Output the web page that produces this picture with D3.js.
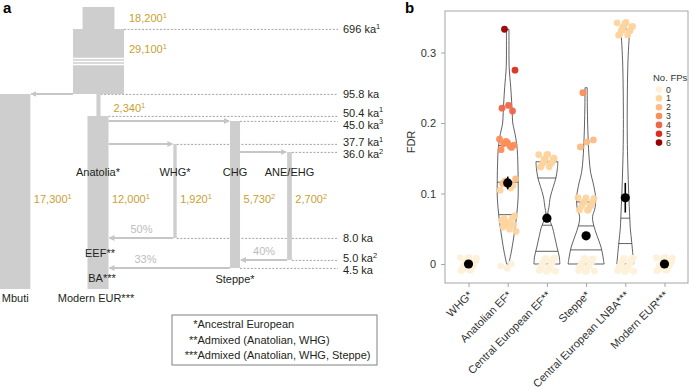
<!DOCTYPE html>
<html>
<head>
<meta charset="utf-8">
<script src="https://cdn.jsdelivr.net/npm/d3@7"></script>
<style>
  body { margin: 0; background: #fff; }
  svg { font-family: "Liberation Sans", Arial, sans-serif; }
</style>
</head>
<body>
<svg id="fig" width="690" height="390"></svg>
<script>
// ---------- panel a : demographic model ----------
const timeMarks = [696, 95.8, 50.4, 45.0, 37.7, 36.0, 8.0, 5.0, 4.5];   // ka
const timeRefs  = ["1", "", "1", "3", "1", "2", "", "2", ""];
const ancNe   = [18200, 29100];
const ancRefs = ["1", "1"];
const stemNe  = 2340;
const popNames = ["Mbuti", "Anatolia*", "WHG*", "CHG", "ANE/EHG"];
const popNe    = [17300, 12000, 1920, 5730, 2700];
const popRefs  = ["1", "1", "1", "2", "2"];
const popStart = [95.8, 50.4, 37.7, 45.0, 36.0];
const popEnd   = [0, 0, 8.0, 4.5, 5.0];
// population splits
const splitFrom = ["Anatolia*", "Anatolia*", "CHG"];
const splitTo   = ["CHG", "WHG*", "ANE/EHG"];
const splitTime = [45.0, 37.7, 36.0];
// admixture pulses
const pulseFrom = ["WHG*", "ANE/EHG", "CHG"];
const pulseTo   = ["Anatolia*", "CHG", "Anatolia*"];
const pulseTime = [8.0, 5.0, 4.5];
const pulsePct  = ["50%", "40%", "33%"];
const keyStars = ["*", "**", "***"];
const keyText  = ["Ancestral European", "Admixed (Anatolian, WHG)", "Admixed (Anatolian, WHG, Steppe)"];

// ---------- panel b : FDR per population ----------
const fdrCats  = ["WHG*", "Anatolian EF*", "Central European EF**", "Steppe*", "Central European LNBA***", "Modern EUR***"];
const fdrMean  = [0, 0.115, 0.065, 0.040, 0.094, 0];
const fdrLo    = [0, 0.106, 0.061, 0.036, 0.073, 0];
const fdrHi    = [0, 0.124, 0.069, 0.044, 0.115, 0];
const fdrQuart = [null, [0.070, 0.116, 0.168], [0.018, 0.055, 0.122], [0.020, 0.054, 0.088], [0.029, 0.065, 0.333], null];
// violin profiles: [FDR, relative density]
const violinAnatolian = [[0,0.06],[0.02,0.22],[0.048,0.39],[0.07,0.5],[0.095,0.58],[0.12,0.58],[0.145,0.56],[0.162,0.53],[0.18,0.44],[0.19,0.36],[0.2,0.28],[0.215,0.25],[0.23,0.22],[0.25,0.17],[0.28,0.08],[0.31,0.07],[0.333,0.07]];
const violinCentralEF = [[0,0.72],[0.01,0.69],[0.024,0.56],[0.04,0.42],[0.052,0.31],[0.065,0.11],[0.072,0.05],[0.08,0.11],[0.095,0.19],[0.11,0.36],[0.122,0.5],[0.135,0.58],[0.145,0.61]];
const violinSteppe    = [[0,1.0],[0.01,0.94],[0.024,0.83],[0.04,0.61],[0.055,0.42],[0.067,0.36],[0.08,0.5],[0.095,0.53],[0.105,0.47],[0.115,0.39],[0.13,0.25],[0.15,0.17],[0.18,0.11],[0.22,0.07],[0.25,0.06]];
const violinLNBA      = [[0,0.47],[0.03,0.36],[0.05,0.28],[0.065,0.25],[0.1,0.19],[0.14,0.14],[0.18,0.11],[0.23,0.11],[0.28,0.14],[0.31,0.19],[0.333,0.25]];
const violins = [null, violinAnatolian, violinCentralEF, violinSteppe, violinLNBA, null];
// simulation points: [FDR, number of FPs, count]
const ptsWHG       = [[0, 0, 20]];
const ptsAnatolian = [[0.333,6,1],[0.275,5,1],[0.225,4,1],[0.221,4,1],[0.217,4,1],[0.172,3,4],[0.167,3,4],[0.116,2,4],[0.110,1,4],[0.064,1,5],[0.052,1,5],[0,0,3]];
const ptsCentralEF = [[0.146,1,14],[0,0,18]];
const ptsSteppe    = [[0.243,3,1],[0.176,2,1],[0.173,2,1],[0.166,2,1],[0.085,1,12],[0,0,18]];
const ptsLNBA      = [[0.333,1,14],[0,0,18]];
const ptsModern    = [[0, 0, 20]];
const points = [ptsWHG, ptsAnatolian, ptsCentralEF, ptsSteppe, ptsLNBA, ptsModern];
const fpLevels = [0, 1, 2, 3, 4, 5, 6];

const svg = d3.select("#fig");
const gold = "#c9a030", colGrey = "#cecece", arrowGrey = "#c6c6c6", ink = "#231f20";

svg.append("defs").append("marker")
  .attr("id", "ah").attr("viewBox", "0 0 6 6").attr("refX", 5).attr("refY", 3)
  .attr("markerWidth", 6).attr("markerHeight", 6).attr("markerUnits", "userSpaceOnUse")
  .attr("orient", "auto")
  .append("path").attr("d", "M0,0L6,3L0,6Z").attr("fill", arrowGrey);

svg.append("text").attr("x", 3).attr("y", 13).attr("font-size", 15).attr("font-weight", "bold").text("a");
svg.append("text").attr("x", 405).attr("y", 13).attr("font-size", 15).attr("font-weight", "bold").text("b");

// ================= panel a =================
const gA = svg.append("g");
const ancTopTime = 1200;   // top of the drawing, not to scale
const yTime = d3.scaleLinear()
  .domain([0, 4.5, 5.0, 8.0, 36.0, 37.7, 45.0, 50.4, 95.8, 696, ancTopTime])
  .range([289, 268, 260, 238, 152, 144, 121, 116, 94, 29, 7]);
const neWidth = d3.scaleLinear().domain([0, 29100]).range([0, 51]);
const xLane = d3.scaleOrdinal().domain(["Ancestral", ...popNames]).range([98.5, 15.2, 98, 175, 235, 289.5]);

const cols = [
  {name: "AncTop", cx: xLane("Ancestral"), ne: ancNe[0], start: ancTopTime, end: 696},
  {name: "AncWide", cx: xLane("Ancestral"), ne: ancNe[1], start: 696, end: 95.8},
  {name: "Stem", cx: xLane("Ancestral"), ne: stemNe, start: 95.8, end: 50.4}
].concat(popNames.map((n, i) => ({name: n, cx: xLane(n), ne: popNe[i], start: popStart[i], end: popEnd[i]})));
cols.forEach(c => { c.w = neWidth(c.ne); c.left = c.cx - c.w / 2; c.right = c.cx + c.w / 2; });
const col = n => cols.find(c => c.name === n);

// dashed time guides
timeMarks.forEach(t => {
  let hit = cols.filter(c => c.start === t);
  if (!hit.length) hit = cols.filter(c => c.end === t);
  const x0 = d3.max(hit, c => c.right);
  gA.append("line").attr("x1", x0).attr("x2", 338).attr("y1", yTime(t) + 0.4).attr("y2", yTime(t) + 0.4)
    .attr("stroke", "#7a7a7a").attr("stroke-width", 0.7).attr("stroke-dasharray", "2,1.6");
});

// columns
gA.selectAll("rect.col").data(cols).enter().append("rect")
  .attr("class", "col")
  .attr("x", c => c.left).attr("width", c => c.w)
  .attr("y", c => yTime(c.start)).attr("height", c => yTime(c.end) - yTime(c.start))
  .attr("fill", colGrey);

// time-break stripes on the ancestral block
[29.5, 32.5, 35.5].forEach(o => {
  const c = col("AncWide");
  gA.append("line").attr("x1", c.left).attr("x2", c.right)
    .attr("y1", yTime(696) + o).attr("y2", yTime(696) + o)
    .attr("stroke", "#fff").attr("stroke-width", 1.4);
});

function arrow(a, b, y) {
  const x1 = b.cx > a.cx ? a.right : a.left;
  const x2 = b.cx > a.cx ? b.left - 1 : b.right + 1;
  gA.append("line").attr("x1", x1).attr("x2", x2).attr("y1", y).attr("y2", y)
    .attr("stroke", arrowGrey).attr("stroke-width", 1.8).attr("marker-end", "url(#ah)");
  return [x1, x2];
}
arrow(col("AncWide"), col("Mbuti"), yTime(95.8));
splitTime.forEach((t, i) => arrow(col(splitFrom[i]), col(splitTo[i]), yTime(t)));
pulseTime.forEach((t, i) => {
  const [x1, x2] = arrow(col(pulseFrom[i]), col(pulseTo[i]), yTime(t));
  const lx = Math.min((x1 + x2) / 2, x2 + 36);
  gA.append("text").attr("x", lx).attr("y", yTime(t) - 5.5).attr("text-anchor", "middle")
    .attr("font-size", 11).attr("fill", "#bcbcbc").text(pulsePct[i]);
});

function supText(g, x, y, main, sup, color, anchor) {
  const t = g.append("text").attr("x", x).attr("y", y).attr("font-size", 11)
    .attr("fill", color).attr("text-anchor", anchor || "start");
  t.append("tspan").text(main);
  if (sup) t.append("tspan").attr("dy", -4.5).attr("font-size", 7.5).text(sup);
  return t;
}

// time labels, spread when crowded
const labY = timeMarks.map(t => yTime(t));
for (let i = 1; i < labY.length; i++) {
  if (labY[i] - labY[i - 1] < 12) {
    const m = (labY[i] + labY[i - 1]) / 2;
    labY[i - 1] = m - 6; labY[i] = m + 6;
  }
}
const fmtKa = t => (t >= 100 ? d3.format("d")(t) : d3.format(".1f")(t)) + " ka";
timeMarks.forEach((t, i) => supText(gA, 343, labY[i] + 4, fmtKa(t), timeRefs[i], ink));

// Ne labels
const fmtNe = d3.format(",");
const wide = col("AncWide");
supText(gA, wide.right + 5, 22, fmtNe(ancNe[0]), ancRefs[0], gold);
supText(gA, wide.right + 5, 53, fmtNe(ancNe[1]), ancRefs[1], gold);
supText(gA, col("Anatolia*").right + 5, 112, fmtNe(stemNe), "1", gold);
popNames.forEach((n, i) => supText(gA, col(n).right + 3.5, 203, fmtNe(popNe[i]), popRefs[i], gold));

// population names
popNames.slice(1).forEach(n => {
  gA.append("text").attr("x", col(n).cx).attr("y", 176).attr("text-anchor", "middle")
    .attr("font-size", 11).attr("fill", ink).text(n);
});
const nameAt = (x, y, s) => gA.append("text").attr("x", x).attr("y", y).attr("text-anchor", "middle")
  .attr("font-size", 11).attr("fill", ink).text(s);
nameAt(col("Mbuti").cx, 302, "Mbuti");
nameAt(col("Anatolia*").cx - 2, 302, "Modern EUR***");
nameAt(col("Anatolia*").cx + 2, yTime(8.0) + 19, "EEF**");
nameAt(col("Anatolia*").cx + 4, yTime(4.5) + 14, "BA***");
nameAt(col("CHG").cx, yTime(4.5) + 15, "Steppe*");

// key box
gA.append("rect").attr("x", 172).attr("y", 315).attr("width", 205).attr("height", 50)
  .attr("fill", "none").attr("stroke", "#808080").attr("stroke-width", 1);
keyText.forEach((s, i) => {
  const y = 328 + i * 15.5;
  gA.append("text").attr("x", 197.5).attr("y", y).attr("text-anchor", "end").attr("font-size", 11).attr("fill", ink).text(keyStars[i]);
  gA.append("text").attr("x", 197.5).attr("y", y).attr("font-size", 11).attr("fill", ink).text(s);
});

// ================= panel b =================
const gB = svg.append("g");
const pl = 445, pr = 688, pt = 11, pb = 283;
const yF = d3.scaleLinear().domain([0, 0.3]).range([264, 52.5]);
const xF = d3.scalePoint().domain(fdrCats).range([pl, pr]).padding(0.6);
const wScale = d3.scaleLinear().domain([0, 1]).range([0, 18]);
const fpColor = d3.scaleOrdinal().domain(fpLevels).range(d3.schemeOrRd[7]);

gB.append("rect").attr("x", pl).attr("y", pt).attr("width", pr - pl).attr("height", pb - pt)
  .attr("fill", "none").attr("stroke", "#a5a5a5").attr("stroke-width", 1);

const yAxis = gB.append("g").attr("transform", `translate(${pl},0)`)
  .call(d3.axisLeft(yF).tickValues([0, 0.1, 0.2, 0.3]).tickSize(4).tickPadding(5)
    .tickFormat(d => d === 0 ? "0" : d.toFixed(1)));
yAxis.select(".domain").remove();
yAxis.selectAll("line").attr("stroke", "#a5a5a5");
yAxis.selectAll("text").attr("font-size", 11).attr("fill", "#333").style("font-family", "Liberation Sans, Arial, sans-serif");

const xAxis = gB.append("g").attr("transform", `translate(0,${pb})`)
  .call(d3.axisBottom(xF).tickSize(4));
xAxis.select(".domain").remove();
xAxis.selectAll("line").attr("stroke", "#a5a5a5");
xAxis.selectAll("text").attr("font-size", 11).attr("fill", "#333")
  .style("font-family", "Liberation Sans, Arial, sans-serif")
  .attr("text-anchor", "end").attr("x", -6).attr("y", 8).attr("dy", "0.35em")
  .attr("transform", "rotate(-45)");

gB.append("text").attr("transform", "translate(415,142) rotate(-90)").attr("text-anchor", "middle")
  .attr("font-size", 11).attr("fill", "#333").text("FDR");

// violins
const halfAt = (prof, v) => {
  for (let i = 1; i < prof.length; i++) {
    if (v <= prof[i][0]) {
      const [a0, d0] = prof[i - 1], [a1, d1] = prof[i];
      return wScale(d0 + (d1 - d0) * (v - a0) / (a1 - a0));
    }
  }
  return wScale(prof[prof.length - 1][1]);
};
fdrCats.forEach((cat, i) => {
  const prof = violins[i];
  if (!prof) return;
  const cx = xF(cat);
  const area = d3.area().curve(d3.curveCatmullRom.alpha(0.5))
    .y(d => yF(d[0])).x0(d => cx - wScale(d[1])).x1(d => cx + wScale(d[1]));
  gB.append("path").attr("d", area(prof)).attr("fill", "none")
    .attr("stroke", "#3a3a3a").attr("stroke-width", 0.8);
  fdrQuart[i].forEach(q => {
    const hw = halfAt(prof, q);
    gB.append("line").attr("x1", cx - hw).attr("x2", cx + hw).attr("y1", yF(q)).attr("y2", yF(q))
      .attr("stroke", "#3a3a3a").attr("stroke-width", 0.8);
  });
});

// jittered simulation points
const frac = v => v - Math.floor(v);
fdrCats.forEach((cat, i) => {
  const cx = xF(cat);
  const pts = [];
  let k = 0;
  points[i].forEach(([v, fp, n]) => {
    for (let j = 0; j < n; j++, k++) {
      const jx = frac(0.31 + k * 0.618034) * 2 - 1;
      const jy = n > 1 ? frac(0.57 + k * 0.7548777) * 2 - 1 : 0;
      const amp = n > 8 ? 8 : 4.5;
      pts.push({x: cx + jx * 8.5, y: yF(v) + jy * amp, fp});
    }
  });
  gB.selectAll(null).data(pts).enter().append("circle")
    .attr("cx", d => d.x).attr("cy", d => d.y).attr("r", 3.4)
    .attr("fill", d => fpColor(d.fp)).attr("fill-opacity", 0.95);
});

// mean and error bars
fdrCats.forEach((cat, i) => {
  const cx = xF(cat);
  gB.append("line").attr("x1", cx).attr("x2", cx).attr("y1", yF(fdrLo[i])).attr("y2", yF(fdrHi[i]))
    .attr("stroke", "#000").attr("stroke-width", 1.6);
  gB.append("circle").attr("cx", cx).attr("cy", yF(fdrMean[i])).attr("r", 4.6).attr("fill", "#000");
});

// legend
gB.append("text").attr("x", 653).attr("y", 81).attr("font-size", 9.5).attr("fill", "#333").text("No. FPs");
fpLevels.forEach((f, i) => {
  const y = 89.5 + i * 8.85;
  gB.append("circle").attr("cx", 659).attr("cy", y).attr("r", 3.3).attr("fill", fpColor(f));
  gB.append("text").attr("x", 666).attr("y", y).attr("dy", "0.35em").attr("font-size", 8.8)
    .attr("fill", "#333").text(f);
});
</script>
</body>
</html>
